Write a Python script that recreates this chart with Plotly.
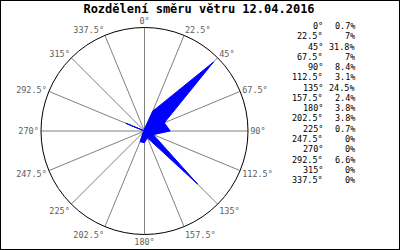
import plotly.graph_objects as go

directions = [0, 22.5, 45, 67.5, 90, 112.5, 135, 157.5, 180, 202.5, 225, 247.5, 270, 292.5, 315, 337.5]
dir_labels = ["0°", "22.5°", "45°", "67.5°", "90°", "112.5°", "135°", "157.5°",
              "180°", "202.5°", "225°", "247.5°", "270°", "292.5°", "315°", "337.5°"]
values = [0.7, 7, 31.8, 7, 8.4, 3.1, 24.5, 2.4, 3.8, 3.8, 0.7, 0, 0, 6.6, 0, 0]
value_labels = ["0.7%", "7%", "31.8%", "7%", "8.4%", "3.1%", "24.5%", "2.4%",
                "3.8%", "3.8%", "0.7%", "0%", "0%", "6.6%", "0%", "0%"]
title = "Rozdělení směru větru 12.04.2016"

fig = go.Figure()
fig.add_trace(go.Scatterpolar(
    r=values + [values[0]],
    theta=directions + [directions[0]],
    mode="lines",
    fill="toself",
    fillcolor="#0000FF",
    line=dict(color="#0000FF", width=1),
    hoverinfo="skip",
))

W, H = 400, 250
cx, cy, R = 144.5, 131, 103.5
fig.update_layout(
    width=W, height=H,
    margin=dict(l=0, r=0, t=0, b=0),
    paper_bgcolor="white",
    plot_bgcolor="white",
    showlegend=False,
    polar=dict(
        domain=dict(x=[(cx - R) / W, (cx + R) / W], y=[(H - cy - R) / H, (H - cy + R) / H]),
        bgcolor="white",
        radialaxis=dict(range=[0, 33.8], visible=False, showgrid=False),
        angularaxis=dict(
            direction="clockwise", rotation=90,
            tickmode="array", tickvals=directions, ticktext=dir_labels,
            showgrid=True, gridcolor="#808080", gridwidth=1,
            linecolor="black", linewidth=1,
            ticks="", tickfont=dict(family="DejaVu Sans Mono", size=8.5, color="#606060"),
        ),
    ),
    title=dict(text="<b>" + title + "</b>", x=199 / W, xanchor="center", y=1 - 8.5 / H, yanchor="middle",
               font=dict(family="DejaVu Sans Mono", size=12, color="black")),
)

y0, dy = 26, 10.27
for i, (d, v) in enumerate(zip(dir_labels, value_labels)):
    yy = 1 - (y0 + i * dy) / H
    fig.add_annotation(x=325 / W, y=yy, xref="paper", yref="paper", text=d, showarrow=False,
                       xanchor="right", yanchor="middle",
                       font=dict(family="DejaVu Sans Mono", size=8.5, color="black"))
    fig.add_annotation(x=357 / W, y=yy, xref="paper", yref="paper", text=v, showarrow=False,
                       xanchor="right", yanchor="middle",
                       font=dict(family="DejaVu Sans Mono", size=8.5, color="black"))

fig.add_shape(type="rect", xref="paper", yref="paper", x0=0, x1=1, y0=0, y1=1,
              line=dict(color="black", width=2))

fig.write_html("out.html")
